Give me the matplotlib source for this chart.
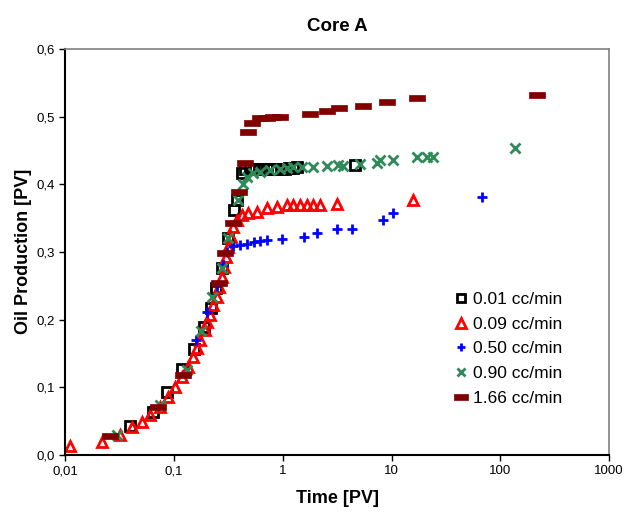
import numpy as np
import matplotlib.pyplot as plt
from matplotlib.ticker import FixedLocator, FixedFormatter

plt.rcParams['font.family'] = ['Liberation Sans', 'DejaVu Sans']

# 0.01 cc/min
t_001 = [0.0395, 0.064, 0.087, 0.119, 0.153, 0.189, 0.22, 0.244, 0.277, 0.315, 0.357, 0.381,
         0.424, 0.45, 0.5, 0.55, 0.6, 0.66, 0.72, 0.8, 0.88, 0.96, 1.05, 1.15, 1.25, 1.36, 4.6]
y_001 = [0.043, 0.064, 0.093, 0.127, 0.157, 0.189, 0.217, 0.247, 0.276, 0.321, 0.362, 0.377,
         0.417, 0.422, 0.423, 0.423, 0.422, 0.422, 0.422, 0.423, 0.423, 0.423, 0.423, 0.424, 0.424, 0.425, 0.428]

# 0.09 cc/min
t_009 = [0.0111, 0.0219, 0.032, 0.0413, 0.051, 0.060, 0.075, 0.0885, 0.1026, 0.119, 0.135, 0.15,
         0.163, 0.174, 0.194, 0.202, 0.215, 0.229, 0.249, 0.26, 0.277, 0.289, 0.302, 0.315, 0.336,
         0.35, 0.38, 0.424, 0.481, 0.58, 0.72, 0.89, 1.1, 1.25, 1.45, 1.67, 1.9, 2.2, 3.16, 15.8]
y_009 = [0.013, 0.019, 0.030, 0.041, 0.049, 0.059, 0.071, 0.086, 0.100, 0.115, 0.130, 0.145,
         0.158, 0.170, 0.185, 0.196, 0.207, 0.222, 0.233, 0.248, 0.263, 0.278, 0.292, 0.307, 0.322,
         0.337, 0.347, 0.355, 0.357, 0.359, 0.365, 0.366, 0.369, 0.369, 0.369, 0.369, 0.369, 0.369, 0.370, 0.376]

# 0.50 cc/min
t_050 = [0.16, 0.20, 0.25, 0.28, 0.31, 0.35, 0.406, 0.47, 0.55, 0.62, 0.72, 0.99, 1.58, 2.07,
         3.16, 4.34, 8.4, 10.3, 68.0]
y_050 = [0.17, 0.211, 0.25, 0.28, 0.30, 0.309, 0.310, 0.312, 0.314, 0.316, 0.318, 0.319, 0.322,
         0.328, 0.334, 0.334, 0.347, 0.357, 0.381]

# 0.90 cc/min
t_090 = [0.030, 0.075, 0.132, 0.177, 0.224, 0.277, 0.315, 0.39, 0.43, 0.47, 0.53, 0.62, 0.76,
         0.94, 1.1, 1.25, 1.5, 1.9, 2.55, 3.2, 3.6, 5.1, 7.3, 7.9, 10.3, 17.2, 21.0, 24.0, 137.0]
y_090 = [0.03, 0.074, 0.126, 0.183, 0.233, 0.276, 0.321, 0.377, 0.40, 0.41, 0.417, 0.418, 0.421,
         0.422, 0.424, 0.425, 0.425, 0.425, 0.427, 0.428, 0.427, 0.43, 0.431, 0.436, 0.436, 0.44,
         0.44, 0.44, 0.453]

# 1.66 cc/min
t_166 = [0.026, 0.072, 0.122, 0.26, 0.295, 0.35, 0.40, 0.45, 0.48, 0.52, 0.62, 0.72, 0.81, 0.94,
         1.78, 2.55, 3.3, 5.5, 9.1, 17.0, 218.0]
y_166 = [0.028, 0.071, 0.118, 0.254, 0.298, 0.343, 0.389, 0.431, 0.477, 0.49, 0.498, 0.498, 0.50,
         0.50, 0.504, 0.508, 0.512, 0.516, 0.521, 0.527, 0.532]

labels = ['0.01 cc/min', '0.09 cc/min', '0.50 cc/min', '0.90 cc/min', '1.66 cc/min']

bar_marker = [(-1, -0.4), (1, -0.4), (1, 0.4), (-1, 0.4), (-1, -0.4)]

fig = plt.figure(figsize=(6.26, 5.14), dpi=100)
ax = fig.add_axes([0.104, 0.115, 0.869, 0.79])

ax.plot(t_001, y_001, ls='none', marker='s', ms=7, mfc='none', mec='black', mew=2, label=labels[0])
ax.plot(t_009, y_009, ls='none', marker='^', ms=7.5, mfc='none', mec='red', mew=2, label=labels[1])
ax.plot(t_050, y_050, ls='none', marker='+', ms=7, mec='blue', mew=2, label=labels[2])
ax.plot(t_090, y_090, ls='none', marker='x', ms=7, mec='#2e8b57', mew=2, label=labels[3])
ax.plot(t_166, y_166, ls='none', marker=bar_marker, ms=11, mfc='#800000', mec='#800000', mew=0.5,
        label=labels[4])

ax.set_xscale('log')
ax.set_xlim(0.01, 1000)
ax.set_ylim(0, 0.6)
xt = [0.01, 0.1, 1, 10, 100, 1000]
ax.xaxis.set_major_locator(FixedLocator(xt))
ax.xaxis.set_major_formatter(FixedFormatter(['0,01', '0,1', '1', '10', '100', '1000']))
ax.xaxis.set_minor_locator(FixedLocator([]))
yt = np.arange(0, 0.61, 0.1)
ax.set_yticks(yt)
ax.set_yticklabels([f'{v:.1f}'.replace('.', ',') for v in yt])
ax.tick_params(axis='both', labelsize=9.5, length=4, width=1, direction='out')

for s in ['left', 'bottom']:
    ax.spines[s].set_color('black')
    ax.spines[s].set_linewidth(1.5)
for s in ['top', 'right']:
    ax.spines[s].set_color('#808080')
    ax.spines[s].set_linewidth(1.2)

ax.set_title('Core A', fontsize=13.5, fontweight='bold', pad=13)
ax.set_xlabel('Time [PV]', fontsize=13, fontweight='bold', labelpad=9)
ax.set_ylabel('Oil Production [PV]', fontsize=13, fontweight='bold', labelpad=3)

ax.legend(loc='upper left', bbox_to_anchor=(0.68, 0.44), frameon=False, fontsize=12.5,
          handletextpad=0.1, labelspacing=0.55, handlelength=1.2, markerscale=0.9)

fig.savefig('out.png', dpi=100)
